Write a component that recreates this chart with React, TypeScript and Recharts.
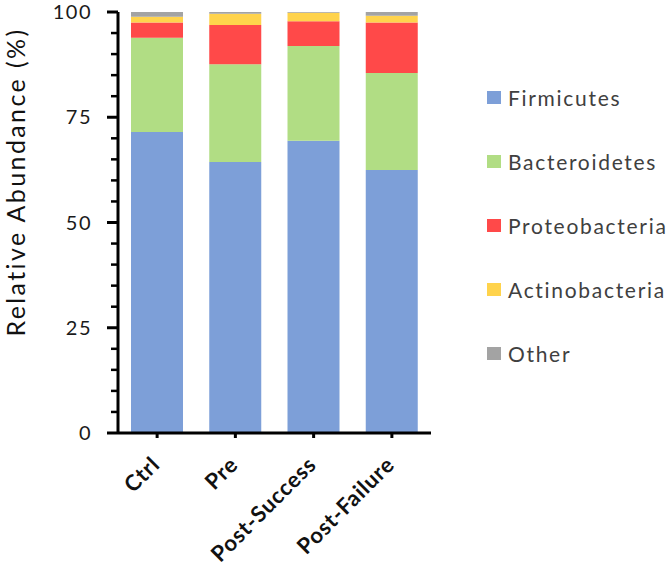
import { BarChart, Bar, XAxis, YAxis, Legend } from 'recharts';

const groups = ['Ctrl', 'Pre', 'Post-Success', 'Post-Failure'];
const firmicutes = [71.5, 64.4, 69.4, 62.5];
const bacteroidetes = [22.4, 23.2, 22.5, 23.0];
const proteobacteria = [3.6, 9.3, 5.9, 12.0];
const actinobacteria = [1.4, 2.7, 2.0, 1.6];
const other = [1.1, 0.4, 0.2, 0.9];
const yTicks = [0, 5, 10, 15, 20, 25, 30, 35, 40, 45, 50, 55, 60, 65, 70, 75, 80, 85, 90, 95, 100];

const series = [
  { key: 'firmicutes', name: 'Firmicutes', color: '#7d9fd8' },
  { key: 'bacteroidetes', name: 'Bacteroidetes', color: '#b1dd84' },
  { key: 'proteobacteria', name: 'Proteobacteria', color: '#ff4949' },
  { key: 'actinobacteria', name: 'Actinobacteria', color: '#ffd34c' },
  { key: 'other', name: 'Other', color: '#a3a3a3' },
];

const data = groups.map((g, i) => ({
  group: g,
  firmicutes: firmicutes[i],
  bacteroidetes: bacteroidetes[i],
  proteobacteria: proteobacteria[i],
  actinobacteria: actinobacteria[i],
  other: other[i],
}));

const FONT = 'Lato, "DejaVu Sans", sans-serif';

function YTick(props: any) {
  const { x, y, payload } = props;
  const major = payload.value % 25 === 0;
  return (
    <g>
      <line
        x1={x}
        x2={x - (major ? 11 : 7)}
        y1={y}
        y2={y}
        stroke="#000"
        strokeWidth={major ? 3 : 2.5}
      />
      {major && (
        <text
          x={x - 26}
          y={y}
          dy="0.36em"
          textAnchor="end"
          fontSize={20}
          letterSpacing={1.5}
          fontFamily={FONT}
          fill="#1a1a1a"
        >
          {payload.value}
        </text>
      )}
    </g>
  );
}

function XTick(props: any) {
  const { x, y, payload } = props;
  return (
    <text
      transform={`translate(${x + 4},${y + 28}) rotate(-45)`}
      textAnchor="end"
      fontSize={22}
      letterSpacing={0.8}
      fontWeight="bold"
      fontFamily={FONT}
      fill="#111"
    >
      {payload.value}
    </text>
  );
}

function YTitle() {
  return (
    <text
      x={15}
      y={182}
      transform="rotate(-90 15 182)"
      textAnchor="middle"
      dominantBaseline="central"
      fontSize={25}
      letterSpacing={2.4}
      fontFamily={FONT}
      fill="#111"
    >
      Relative Abundance (%)
    </text>
  );
}

function LegendList() {
  return (
    <div style={{ fontFamily: FONT }}>
      {series.map((s) => (
        <div
          key={s.key}
          style={{ height: 64, display: 'flex', alignItems: 'center' }}
        >
          <span
            style={{
              display: 'inline-block',
              width: 14,
              height: 13,
              background: s.color,
              marginRight: 7,
            }}
          />
          <span style={{ fontSize: 21, letterSpacing: 1.7, color: '#404040', whiteSpace: 'nowrap' }}>
            {s.name}
          </span>
        </div>
      ))}
    </div>
  );
}

export default function App() {
  return (
    <div style={{ position: 'absolute', left: 0, top: 0, width: 668, height: 569, background: '#fff', overflow: 'hidden' }}>
      <BarChart
        width={668}
        height={569}
        data={data}
        margin={{ top: 12, right: 237, bottom: 36, left: 58 }}
      >
        <XAxis
          dataKey="group"
          height={100}
          interval={0}
          axisLine={{ stroke: '#000', strokeWidth: 3 }}
          tickLine={{ stroke: '#000', strokeWidth: 3 }}
          tickSize={5}
          tickMargin={0}
          tick={<XTick />}
        />
        <YAxis
          width={60}
          domain={[0, 100]}
          ticks={yTicks}
          interval={0}
          axisLine={{ stroke: '#000', strokeWidth: 3 }}
          tickLine={false}
          tickSize={0}
          tickMargin={0}
          tick={<YTick />}
          label={<YTitle />}
        />
        <Legend
          layout="vertical"
          align="center"
          verticalAlign="middle"
          content={() => <LegendList />}
          wrapperStyle={{ position: 'absolute', left: 487, top: 65, width: 181, height: 320 }}
        />
        {series.map((s) => (
          <Bar
            key={s.key}
            dataKey={s.key}
            name={s.name}
            stackId="a"
            fill={s.color}
            barSize={52}
            isAnimationActive={false}
          />
        ))}
      </BarChart>
    </div>
  );
}
